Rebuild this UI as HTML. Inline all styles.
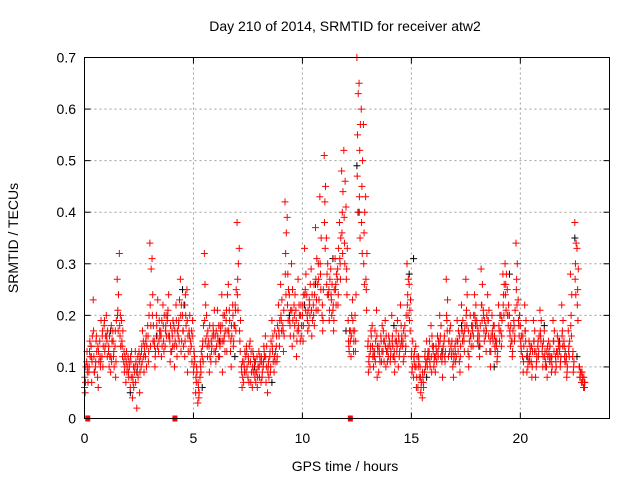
<!DOCTYPE html>
<html><head><meta charset="utf-8"><style>
html,body{margin:0;padding:0;background:#fff;}
svg text{font-family:"Liberation Sans",sans-serif;fill:#000;}
</style></head><body>
<svg id="chart" width="640" height="480" viewBox="0 0 640 480" xmlns="http://www.w3.org/2000/svg">
<rect width="640" height="480" fill="#fff"/>
<text x="345" y="31" font-size="14" text-anchor="middle">Day 210 of 2014, SRMTID for receiver atw2</text>
<text x="345" y="471" font-size="14" text-anchor="middle">GPS time / hours</text>
<text transform="translate(18,238) rotate(-90)" font-size="14" text-anchor="middle">SRMTID / TECUs</text>
<g id="grid"></g>
<g id="ticks"></g>
<g id="black"></g>
<g id="red"></g>
<g id="marks"></g>
<rect x="84.5" y="57.5" width="525" height="361" fill="none" stroke="#000" stroke-width="1"/>
</svg>
<script>
const xTicks=[0,5,10,15,20];
const yTicks=[0,0.1,0.2,0.3,0.4,0.5,0.6,0.7];
const yTickLabels=["0","0.1","0.2","0.3","0.4","0.5","0.6","0.7"];
const redStep=0.1;
const redA=[0.06,0.11,0.09,0.14,0.23,0.10,0.08,0.15,0.12,0.18,
0.20,0.13,0.09,0.17,0.14,0.27,0.32,0.19,0.11,0.07,
0.12,0.06,0.04,0.09,0.02,0.13,0.10,0.15,0.12,0.18,
0.34,0.31,0.15,0.20,0.13,0.17,0.22,0.14,0.19,0.16,
0.13,0.18,0.22,0.16,0.27,0.20,0.12,0.25,0.17,0.14,
0.09,0.05,0.03,0.08,0.12,0.32,0.20,0.15,0.11,0.18,
0.16,0.21,0.12,0.24,0.15,0.19,0.26,0.13,0.22,0.18,
0.38,0.33,0.10,0.07,0.12,0.08,0.15,0.06,0.11,0.09,
0.13,0.07,0.10,0.16,0.05,0.12,0.19,0.09,0.14,0.22,
0.26,0.18,0.42,0.39,0.24,0.30,0.16,0.21,0.27,0.15,
0.20,0.33,0.24,0.18,0.29,0.22,0.37,0.26,0.43,0.20,
0.51,0.35,0.24,0.29,0.21,0.31,0.27,0.38,0.48,0.52,
0.41,0.19,0.15,0.23,0.17,0.70,0.65,0.60,0.57,0.43,
0.14,0.10,0.18,0.12,0.21,0.09,0.16,0.13,0.19,0.11,
0.15,0.20,0.12,0.17,0.10,0.22,0.14,0.18,0.30,0.26,
0.12,0.08,0.14,0.06,0.10,0.04,0.09,0.15,0.12,0.18,
0.13,0.09,0.16,0.20,0.11,0.15,0.27,0.12,0.18,0.10,
0.14,0.19,0.11,0.22,0.16,0.27,0.13,0.20,0.17,0.24,
0.19,0.15,0.29,0.21,0.16,0.24,0.13,0.20,0.18,0.14,
0.22,0.17,0.28,0.30,0.25,0.20,0.15,0.19,0.34,0.23,
0.18,0.12,0.22,0.09,0.15,0.11,0.19,0.08,0.14,0.21,
0.13,0.17,0.10,0.15,0.12,0.19,0.09,0.16,0.13,0.22,
0.15,0.11,0.17,0.28,0.12,0.38,0.33,0.10,0.07,0.06];
const redB=[0.05,0.09,0.13,0.07,0.12,0.15,0.06,0.10,0.17,0.13,
0.15,0.10,0.18,0.12,0.08,0.21,0.16,0.14,0.09,0.13,
0.08,0.11,0.07,0.13,0.10,0.05,0.14,0.09,0.16,0.11,
0.14,0.24,0.10,0.16,0.19,0.12,0.15,0.18,0.21,0.11,
0.16,0.10,0.14,0.19,0.13,0.17,0.24,0.09,0.20,0.11,
0.13,0.07,0.06,0.10,0.15,0.26,0.14,0.09,0.13,0.16,
0.11,0.15,0.18,0.09,0.20,0.13,0.16,0.10,0.14,0.21,
0.27,0.15,0.06,0.10,0.14,0.11,0.07,0.13,0.09,0.06,
0.08,0.11,0.14,0.07,0.10,0.09,0.13,0.17,0.11,0.16,
0.19,0.13,0.32,0.28,0.18,0.14,0.20,0.12,0.17,0.22,
0.15,0.25,0.19,0.22,0.16,0.26,0.21,0.30,0.28,0.17,
0.42,0.28,0.19,0.23,0.17,0.26,0.22,0.30,0.40,0.34,
0.29,0.14,0.12,0.17,0.13,0.55,0.52,0.45,0.36,0.25,
0.09,0.14,0.12,0.17,0.08,0.13,0.11,0.15,0.10,0.14,
0.11,0.16,0.09,0.13,0.15,0.18,0.11,0.13,0.24,0.21,
0.09,0.11,0.06,0.12,0.05,0.08,0.13,0.10,0.15,0.09,
0.10,0.14,0.12,0.16,0.08,0.12,0.19,0.15,0.13,0.08,
0.11,0.15,0.09,0.17,0.13,0.21,0.10,0.16,0.14,0.19,
0.15,0.12,0.22,0.17,0.13,0.19,0.10,0.16,0.14,0.11,
0.17,0.14,0.24,0.26,0.20,0.16,0.12,0.15,0.27,0.18,
0.14,0.09,0.17,0.12,0.11,0.08,0.15,0.10,0.12,0.16,
0.10,0.13,0.08,0.12,0.09,0.15,0.11,0.12,0.10,0.17,
0.12,0.08,0.14,0.20,0.09,0.30,0.25,0.08,0.09,0.07];
const redC=[0.10,0.07,0.12,0.16,0.09,0.13,0.11,0.19,0.14,0.16,
0.17,0.12,0.15,0.10,0.19,0.24,0.14,0.17,0.12,0.10,
0.10,0.13,0.06,0.11,0.08,0.12,0.17,0.13,0.14,0.20,
0.29,0.18,0.13,0.23,0.16,0.14,0.20,0.16,0.24,0.13,
0.19,0.15,0.17,0.23,0.15,0.22,0.18,0.13,0.15,0.19,
0.11,0.09,0.05,0.13,0.18,0.22,0.17,0.12,0.16,0.21,
0.14,0.18,0.15,0.20,0.17,0.24,0.19,0.16,0.18,0.25,
0.30,0.19,0.08,0.13,0.10,0.14,0.09,0.12,0.07,0.10,
0.11,0.09,0.12,0.14,0.08,0.15,0.11,0.13,0.18,0.19,
0.23,0.16,0.36,0.25,0.21,0.19,0.24,0.17,0.20,0.18,
0.24,0.28,0.21,0.26,0.19,0.24,0.31,0.23,0.35,0.25,
0.45,0.30,0.27,0.26,0.25,0.28,0.33,0.35,0.44,0.46,
0.33,0.17,0.20,0.15,0.24,0.63,0.57,0.50,0.40,0.32,
0.12,0.16,0.10,0.15,0.13,0.11,0.18,0.15,0.13,0.16,
0.13,0.12,0.15,0.19,0.13,0.16,0.12,0.20,0.27,0.23,
0.15,0.10,0.12,0.08,0.07,0.06,0.11,0.13,0.10,0.14,
0.12,0.11,0.14,0.18,0.14,0.13,0.23,0.17,0.15,0.12,
0.12,0.17,0.14,0.19,0.18,0.24,0.15,0.18,0.20,0.22,
0.17,0.18,0.26,0.19,0.20,0.21,0.16,0.18,0.15,0.13,
0.20,0.19,0.26,0.28,0.22,0.18,0.17,0.21,0.30,0.20,
0.16,0.14,0.19,0.11,0.13,0.13,0.17,0.12,0.16,0.19,
0.15,0.11,0.12,0.14,0.10,0.17,0.13,0.14,0.12,0.19,
0.13,0.10,0.15,0.24,0.11,0.34,0.29,0.09,0.08,0.07];
const redD=[0.08,0.13,0.10,0.12,0.17,0.11,0.14,0.12,0.16,0.19,
0.16,0.14,0.12,0.15,0.17,0.20,0.18,0.15,0.13,0.11,
0.09,0.12,0.08,0.10,0.09,0.11,0.13,0.12,0.15,0.16,
0.22,0.20,0.14,0.18,0.15,0.16,0.18,0.17,0.20,0.15,
0.17,0.14,0.19,0.18,0.20,0.17,0.15,0.19,0.16,0.17,
0.10,0.08,0.07,0.11,0.14,0.19,0.16,0.14,0.15,0.17,
0.13,0.16,0.14,0.18,0.16,0.21,0.17,0.15,0.20,0.22,
0.24,0.17,0.09,0.11,0.09,0.12,0.11,0.10,0.08,0.12,
0.10,0.12,0.11,0.12,0.09,0.13,0.14,0.12,0.16,0.17,
0.20,0.17,0.28,0.22,0.19,0.21,0.22,0.19,0.18,0.20,
0.22,0.24,0.20,0.23,0.21,0.20,0.27,0.21,0.30,0.22,
0.38,0.26,0.25,0.24,0.22,0.25,0.29,0.31,0.36,0.39,
0.27,0.15,0.17,0.19,0.20,0.47,0.43,0.38,0.30,0.27,
0.15,0.13,0.14,0.13,0.16,0.14,0.15,0.17,0.14,0.13,
0.14,0.15,0.13,0.15,0.16,0.14,0.15,0.16,0.22,0.19,
0.13,0.12,0.10,0.10,0.08,0.09,0.12,0.11,0.13,0.12,
0.14,0.12,0.13,0.15,0.12,0.16,0.20,0.15,0.14,0.13,
0.13,0.15,0.16,0.17,0.15,0.20,0.17,0.16,0.18,0.20,
0.18,0.16,0.22,0.20,0.18,0.19,0.15,0.17,0.16,0.15,
0.18,0.20,0.22,0.24,0.20,0.17,0.15,0.18,0.25,0.19,
0.15,0.16,0.17,0.13,0.12,0.14,0.15,0.13,0.15,0.17,
0.14,0.12,0.13,0.13,0.11,0.15,0.12,0.13,0.14,0.16,
0.14,0.12,0.13,0.18,0.13,0.27,0.22,0.10,0.09,0.08];
const redE=[0.07,0.10,0.15,0.11,0.09,0.16,0.13,0.11,0.10,0.14,
0.12,0.16,0.11,0.13,0.11,0.17,0.20,0.12,0.10,0.09,
0.11,0.08,0.10,0.07,0.12,0.09,0.11,0.14,0.10,0.13,
0.18,0.15,0.12,0.14,0.17,0.19,0.13,0.20,0.16,0.18,
0.14,0.17,0.12,0.15,0.22,0.14,0.20,0.16,0.13,0.16,
0.12,0.10,0.04,0.09,0.11,0.15,0.12,0.18,0.14,0.13,
0.17,0.12,0.17,0.15,0.13,0.17,0.21,0.18,0.15,0.17,
0.21,0.13,0.11,0.09,0.13,0.07,0.13,0.09,0.11,0.08,
0.12,0.08,0.13,0.10,0.11,0.10,0.16,0.11,0.12,0.14,
0.17,0.21,0.24,0.19,0.16,0.25,0.18,0.15,0.22,0.16,
0.18,0.21,0.17,0.20,0.24,0.18,0.23,0.27,0.25,0.19,
0.33,0.24,0.21,0.20,0.19,0.22,0.24,0.27,0.32,0.30,
0.24,0.13,0.16,0.13,0.15,0.40,0.35,0.32,0.26,0.21,
0.11,0.17,0.13,0.11,0.14,0.12,0.13,0.11,0.16,0.12,
0.12,0.14,0.11,0.14,0.12,0.15,0.17,0.14,0.20,0.17,
0.10,0.13,0.08,0.11,0.06,0.07,0.10,0.12,0.11,0.16,
0.11,0.13,0.15,0.12,0.13,0.11,0.17,0.13,0.12,0.11,
0.15,0.13,0.12,0.15,0.17,0.18,0.12,0.14,0.16,0.18,
0.16,0.14,0.19,0.15,0.17,0.16,0.13,0.15,0.13,0.12,
0.15,0.16,0.20,0.21,0.18,0.14,0.13,0.16,0.22,0.16,
0.13,0.11,0.15,0.10,0.14,0.10,0.13,0.11,0.13,0.15,
0.12,0.10,0.14,0.11,0.12,0.13,0.10,0.15,0.11,0.14,
0.11,0.09,0.12,0.16,0.10,0.24,0.19,0.08,0.07,0.06];
const blackT=[0.3,1.2,2.1,2.4,3.3,4.5,4.6,5.4,6.2,6.9,7.8,8.6,9.4,10.1,10.6,11.4,12.0,12.5,12.6,13.3,14.2,14.9,15.1,15.7,16.4,17.3,18.1,18.8,19.5,20.3,21.1,21.8,22.5,22.6];
const blackV=[0.14,0.17,0.05,0.09,0.16,0.25,0.22,0.06,0.15,0.12,0.10,0.07,0.20,0.22,0.26,0.31,0.17,0.49,0.40,0.12,0.18,0.28,0.31,0.08,0.13,0.18,0.14,0.10,0.28,0.12,0.18,0.15,0.35,0.12];
const gapT=[0.15,4.15,12.2];

const X0=84.5,X1=607.5,Y0=418.5,Y1=57.5;
const sx=t=>X0+(X1-X0)*t/24;
const sy=v=>Y0-(Y0-Y1)*v/0.7;
const NS="http://www.w3.org/2000/svg";
function mk(tag,attrs,parent){const e=document.createElementNS(NS,tag);for(const k in attrs)e.setAttribute(k,attrs[k]);parent.appendChild(e);return e;}
const grid=document.getElementById('grid'),ticks=document.getElementById('ticks');
xTicks.forEach(t=>{const x=sx(t);
 if(t>0){const g=mk('line',{x1:x,x2:x,y1:Y1,y2:Y0,stroke:'#a0a0a0','stroke-dasharray':'2,3'},grid);
 
 }
 const l=mk('text',{x:x,y:443,'font-size':14,'text-anchor':'middle'},ticks);l.textContent=t;
 
 
 mk('line',{x1:x,x2:x,y1:Y0,y2:Y0-6,stroke:'#000'},ticks);
 mk('line',{x1:x,x2:x,y1:Y1,y2:Y1+6,stroke:'#000'},ticks);
});
yTicks.forEach((v,i)=>{const y=sy(v);
 if(i>0&&i<yTicks.length-1){const g=mk('line',{x1:X0,x2:609.5,y1:y,y2:y,stroke:'#a0a0a0','stroke-dasharray':'2,3'},grid);
 
 }
 const l=mk('text',{x:76,y:y+5,'font-size':14,'text-anchor':'end'},ticks);l.textContent=yTickLabels[i];
 
 
 mk('line',{x1:X0,x2:X0+6,y1:y,y2:y,stroke:'#000'},ticks);
 mk('line',{x1:609.5,x2:603.5,y1:y,y2:y,stroke:'#000'},ticks);
});
function plus(g,x,y,c){const p=mk('path',{d:`M${x-3.5},${y}h7M${x},${y-3.5}v7`,stroke:c,'stroke-width':1,fill:'none'},g);return p;}
const bg=document.getElementById('black');
blackT.forEach((t,i)=>{const p=plus(bg,sx(t),sy(blackV[i]),'#000');
 
 });
const rg=document.getElementById('red');
[[redA,0],[redB,0.03],[redC,0.06],[redD,0.015],[redE,0.045]].forEach(([arr,off])=>{arr.forEach((v,i)=>{
 const p=plus(rg,sx(i*redStep+off),sy(v),'#ff0000');
 
 });});
const mg=document.getElementById('marks');
gapT.forEach(t=>{const r=mk('rect',{x:sx(t)-2.5,y:Y0-3,width:5,height:6,fill:'#ff0000'},mg);
 
 });
</script>
</body></html>
